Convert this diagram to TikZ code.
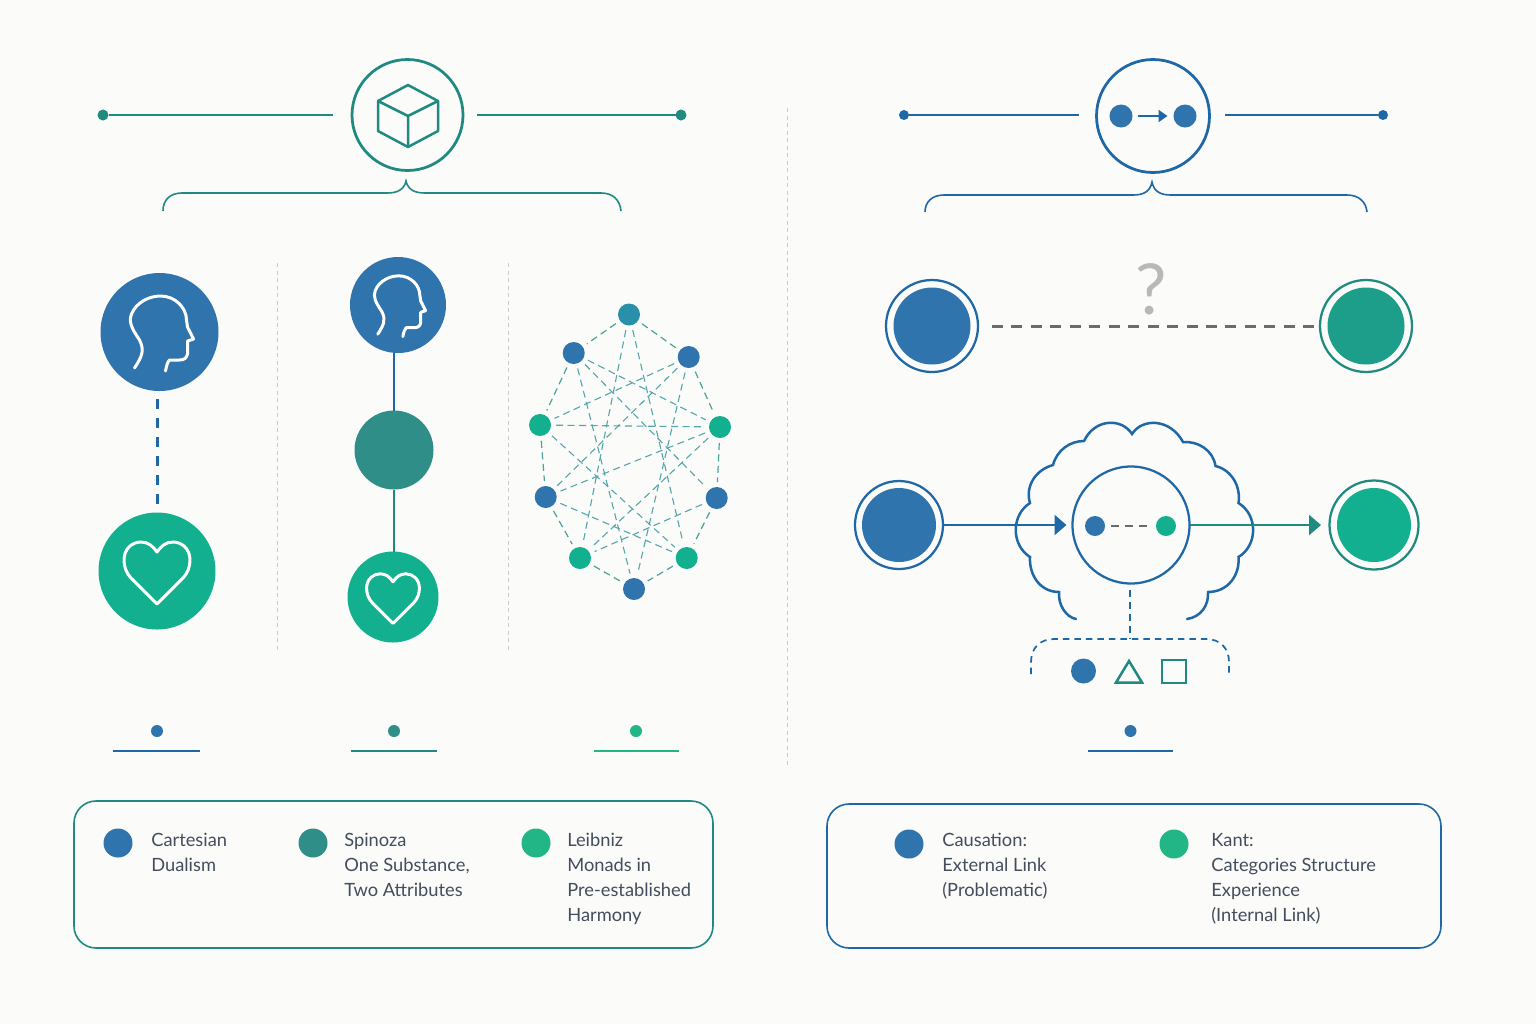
\documentclass[tikz,border=0pt]{standalone}
\usepackage{fontspec}
\setmainfont{Lato}
\usetikzlibrary{arrows.meta}
\definecolor{PhilPaper}{HTML}{FBFBF9}
\definecolor{PhilBlue}{HTML}{3074AE}
\definecolor{PhilLine}{HTML}{1F68A8}
\definecolor{PhilTeal}{HTML}{1F8A80}
\definecolor{PhilMid}{HTML}{2F8F88}
\definecolor{PhilSea}{HTML}{1D9E8B}
\definecolor{PhilGreen}{HTML}{12B08E}
\definecolor{PhilLeaf}{HTML}{22B585}
\definecolor{PhilCyan}{HTML}{2A8FA8}
\definecolor{PhilGray}{HTML}{6B6B6B}
\definecolor{PhilRule}{HTML}{CCCCCA}
\definecolor{PhilInk}{HTML}{434D5C}
\tikzset{
  disc/.style={circle, inner sep=0pt, outer sep=0pt, minimum size=#1*0.4mm},
  ring/.style={circle, draw, fill=none, inner sep=0pt, outer sep=0pt, line width=0.45mm, minimum size=#1*0.4mm},
  divider/.style={PhilRule, line width=0.2mm, dash pattern=on 0.8mm off 0.7mm},
  netlink/.style={PhilTeal!80, line width=0.24mm, dash pattern=on 1.4mm off 0.9mm, shorten >=1mm, shorten <=1mm},
  netcross/.style={netlink, PhilTeal!50!PhilCyan!78, line width=0.22mm},
  legendbox/.style={rounded corners=4.4mm, line width=0.32mm},
  legendtext/.style={anchor=north west, align=left, inner sep=0pt, text=PhilInk, font=\fontsize{10.4}{14.2}\selectfont},
  headicon/.pic={
    \draw[white, line width=0.6mm, line cap=round, line join=round] (-25,36) .. controls (-17,24) and (-15,18) .. (-20,8)
      .. controls (-28,-4) and (-31,-10) .. (-28,-18) .. controls (-23,-30) and (-10,-36) .. (1,-36)
      .. controls (16,-36) and (27,-24) .. (27,-12) -- (28,-5) -- (34,7) -- (28,9) -- (28,22)
      .. controls (27,26) and (25,28) .. (20,28) -- (10,28) .. controls (8,30) and (7,34) .. (6,39);
  },
  hearticon/.pic={
    \draw[white, line width=0.6mm, line join=round] (0,33) -- (-26,7) .. controls (-31,2) and (-33,-5) .. (-33,-11)
      .. controls (-33,-22) and (-25,-29) .. (-16,-29) .. controls (-9,-29) and (-4,-25) .. (0,-19)
      .. controls (4,-25) and (9,-29) .. (16,-29) .. controls (25,-29) and (33,-22) .. (33,-11)
      .. controls (33,-5) and (31,2) .. (26,7) -- cycle;
  }
}
\begin{document}
\begin{tikzpicture}[x=0.2mm, y=-0.2mm]
  \useasboundingbox[fill=PhilPaper] (0,0) rectangle (1536,1024);
  % dividers
  \draw[divider] (787,108) -- (787,765);
  \draw[divider] (277,263) -- (277,652);
  \draw[divider] (508,263) -- (508,652);

  % left header with cube
  \node[ring=55.5, draw=PhilTeal, line width=0.55mm] (cube) at (407.5,115) {};
  \node[disc=5.5, fill=PhilTeal] (capA) at (103,115) {};
  \node[disc=5.5, fill=PhilTeal] (capB) at (681,115) {};
  \coordinate (endA) at (333,115);
  \coordinate (endB) at (477,115);
  \draw[PhilTeal, line width=0.45mm] (capA) -- (endA);
  \draw[PhilTeal, line width=0.45mm] (endB) -- (capB);
  \draw[PhilTeal, line width=0.5mm, line join=round] (408,85) -- (438,101) -- (438,131) -- (408,147) -- (378,131) -- (378,101) -- cycle;
  \draw[PhilTeal, line width=0.5mm, line join=round] (378,101) -- (408,116) -- (438,101) (408,116) -- (408,147);
  \draw[PhilTeal, line width=0.32mm] (163,211) .. controls (163,200) and (170,193) .. (182,193) -- (387,193)
    .. controls (397,193) and (404,190) .. (406,181) .. controls (408,190) and (415,193) .. (425,193) -- (601,193)
    .. controls (613,193) and (620,200) .. (621,211);

  % right header with two dots
  \node[ring=56.5, draw=PhilLine, line width=0.55mm] (cause) at (1153,116) {};
  \node[disc=5, fill=PhilLine] (capC) at (904,115) {};
  \node[disc=5, fill=PhilLine] (capD) at (1383,115) {};
  \coordinate (endC) at (1079,115);
  \coordinate (endD) at (1225,115);
  \draw[PhilLine, line width=0.45mm] (capC) -- (endC);
  \draw[PhilLine, line width=0.45mm] (endD) -- (capD);
  \node[disc=11.5, fill=PhilBlue] (causeA) at (1121,116) {};
  \node[disc=11.5, fill=PhilBlue] (causeB) at (1185,116) {};
  \draw[PhilLine, line width=0.4mm, -{Triangle[length=1.8mm,width=2.4mm]}, shorten <=1mm, shorten >=1.2mm] (causeA) -- (causeB);
  \draw[PhilLine, line width=0.32mm] (925,212) .. controls (925,202) and (932,195) .. (944,195) -- (1133,195)
    .. controls (1143,195) and (1150,192) .. (1152,182) .. controls (1154,192) and (1161,195) .. (1171,195) -- (1347,195)
    .. controls (1359,195) and (1366,202) .. (1367,212);

  % Descartes
  \node[disc=59, fill=PhilBlue] (mind1) at (159.5,332) {};
  \node[disc=58.5, fill=PhilGreen] (body1) at (157,571) {};
  \pic at (mind1) {headicon};
  \pic at (body1) {hearticon};
  \draw[PhilLine, line width=0.6mm, dash pattern=on 2mm off 1.8mm, shorten <=1.6mm, shorten >=1.5mm] (body1.north |- mind1.south) -- (body1.north);

  % Spinoza
  \node[disc=48, fill=PhilBlue] (mind2) at (398,305) {};
  \node[disc=39.5, fill=PhilMid] (subst) at (394,450) {};
  \node[disc=45.5, fill=PhilGreen] (body2) at (393,597) {};
  \pic[scale=0.81] at (mind2) {headicon};
  \pic[scale=0.8] at (body2) {hearticon};
  \draw[PhilLine, line width=0.5mm] (subst.north |- mind2.south) -- (subst.north);
  \draw[PhilTeal, line width=0.5mm] (subst.south) -- (subst.south |- body2.north);

  % Leibniz
  \foreach \i/\px/\py/\c in {1/629/314.5/PhilCyan, 2/573.7/353/PhilBlue, 3/688.7/357/PhilBlue,
      4/540/425/PhilGreen, 5/720/427/PhilGreen, 6/545.7/497/PhilBlue, 7/716.7/498/PhilBlue,
      8/580/558/PhilGreen, 9/686.7/558/PhilGreen, 10/634/589/PhilBlue}
    \node[disc=11, fill=\c] (n\i) at (\px,\py) {};
  \foreach \a/\b in {1/2,1/3,2/4,3/5,4/6,5/7,6/8,7/9,8/10,9/10}
    \draw[netlink] (n\a) -- (n\b);
  \foreach \a/\b in {1/8,1/9,2/10,3/10,2/7,2/5,3/6,3/4,4/5,5/6,4/9,6/9,7/8,5/8}
    \draw[netcross] (n\a) -- (n\b);

  % causation row
  \node[disc=38.5, fill=PhilBlue] (causeL) at (932,326) {};
  \node[ring=46, draw=PhilLine] (causeLr) at (932,326) {};
  \node[disc=38.5, fill=PhilSea] (causeR) at (1366,326) {};
  \node[ring=46, draw=PhilTeal] (causeRr) at (1366,326) {};
  \draw[PhilGray, line width=0.6mm, dash pattern=on 2.2mm off 1.69mm, shorten <=2.8mm, shorten >=1.2mm] (causeLr) -- (causeRr);
  \node[text=PhilRule!90!black, font=\fontsize{40}{40}\selectfont] (doubt) at (1151,289) {?};

  % Kant row
  \draw[PhilLine, line width=0.5mm, line cap=round] (1076,619) .. controls (1066,617) and (1058,605) .. (1059,592)
    .. controls (1040,592) and (1029,575) .. (1030,557) .. controls (1011,545) and (1011,515) .. (1030,503)
    .. controls (1025,487) and (1035,470) .. (1053,465) .. controls (1057,450) and (1070,441) .. (1084,441)
    .. controls (1095,418) and (1122,418) .. (1132,434) .. controls (1142,418) and (1170,418) .. (1183,442)
    .. controls (1198,441) and (1213,450) .. (1215.5,466) .. controls (1232,470) and (1241,487) .. (1238.5,503)
    .. controls (1258,515) and (1258,545) .. (1238.5,557) .. controls (1240,575) and (1228,592) .. (1208,592)
    .. controls (1209,605) and (1201,617) .. (1187,619);
  \node[disc=37, fill=PhilBlue] (appL) at (899,525) {};
  \node[ring=44, draw=PhilLine] (appLr) at (899,525) {};
  \node[disc=37, fill=PhilGreen] (appR) at (1374,525) {};
  \node[ring=44.5, draw=PhilTeal] (appRr) at (1374,525) {};
  \node[ring=58.5, draw=PhilLine] (mindK) at (1131,525) {};
  \node[disc=10, fill=PhilBlue] (mindA) at (1095,526) {};
  \node[disc=10, fill=PhilGreen] (mindB) at (1166,526) {};
  \draw[PhilGray, line width=0.4mm, dash pattern=on 1.5mm off 1.3mm, shorten <=1.2mm, shorten >=1mm] (mindA) -- (mindB);
  \draw[PhilLine, line width=0.5mm, -{Triangle[length=2.4mm,width=4mm]}, shorten >=1.2mm] (appLr.east) -- (mindK.west);
  \draw[PhilTeal, line width=0.5mm, -{Triangle[length=2.4mm,width=4mm]}, shorten >=1.7mm] (mindK.east) -- (appRr.west);

  % categories
  \coordinate (catTop) at (1130,639);
  \draw[PhilLine, line width=0.4mm, dash pattern=on 1.4mm off 1mm, shorten <=1.2mm] (mindK.south -| catTop) -- (catTop);
  \draw[PhilLine, line width=0.35mm, dash pattern=on 1.3mm off 1mm] (1031,674) -- (1031,662) .. controls (1031,648) and (1040,639) .. (1054,639)
    -- (1206,639) .. controls (1220,639) and (1229,648) .. (1229,662) -- (1229,674);
  \node[disc=12.5, fill=PhilBlue] (catA) at (1083.5,671) {};
  \draw[PhilTeal, line width=0.5mm, line join=miter] (1129,661) -- (1142,682.5) -- (1116,682.5) -- cycle;
  \draw[PhilTeal, line width=0.5mm] (1162,660) rectangle (1186,683);

  % small markers
  \foreach \name/\mx/\mc/\lc/\lo/\hi in {m1/157/PhilBlue/PhilLine/113/200, m2/394/PhilMid/PhilTeal/351/437,
      m3/636/PhilLeaf/PhilLeaf/594/679, m4/1130.5/PhilBlue/PhilLine/1088/1173} {
    \node[disc=6, fill=\mc] (\name) at (\mx,731) {};
    \draw[\lc, line width=0.4mm] (\lo,751) -- (\hi,751);
  }

  % legends
  \draw[legendbox, PhilTeal] (74,801) rectangle (713,948);
  \draw[legendbox, PhilLine] (827,804) rectangle (1441,948);
  \node[disc=14.5, fill=PhilBlue] (keyA) at (118,843) {};
  \node[disc=14.5, fill=PhilMid] (keyB) at (313,843) {};
  \node[disc=14.5, fill=PhilLeaf] (keyC) at (536,843) {};
  \node[disc=14.5, fill=PhilBlue] (keyD) at (909,844) {};
  \node[disc=14.5, fill=PhilLeaf] (keyE) at (1174,844) {};
  \node[legendtext] (txtA) at (151,833) {Cartesian\\Dualism};
  \node[legendtext] (txtB) at (344,833) {Spinoza\\One Substance,\\Two Attributes};
  \node[legendtext] (txtC) at (567,833) {Leibniz\\Monads in\\Pre-established\\Harmony};
  \node[legendtext] (txtD) at (942,833) {Causation:\\External Link\\(Problematic)};
  \node[legendtext] (txtE) at (1211,833) {Kant:\\Categories Structure\\Experience\\(Internal Link)};
\end{tikzpicture}
\end{document}
